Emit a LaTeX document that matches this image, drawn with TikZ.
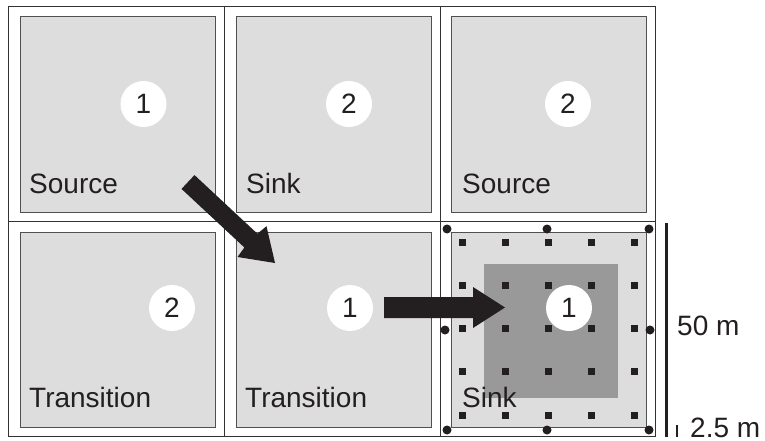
\documentclass[tikz,border=0pt]{standalone}
\usepackage{fontspec}
\setmainfont{Liberation Sans}
\definecolor{ink}{RGB}{35,31,32}
\definecolor{cellfill}{RGB}{221,221,221}
\definecolor{boxc}{RGB}{80,80,80}
\definecolor{gridc}{RGB}{50,50,50}
\definecolor{coref}{RGB}{153,153,153}
\begin{document}
\begin{tikzpicture}[x=1pt,y=-1pt,
  gridline/.style={draw=gridc, line width=1pt},
  cellbox/.style={draw=boxc, fill=cellfill, line width=1pt, minimum width=195pt, minimum height=195pt, inner sep=0pt, outer sep=0pt},
  corebox/.style={fill=coref, minimum width=134pt, minimum height=134pt, inner sep=0pt},
  num/.style={circle, fill=white, minimum size=46pt, inner sep=0pt, font=\fontsize{28}{28}\selectfont, text=ink},
  lbl/.style={anchor=base west, inner sep=0pt, font=\fontsize{28}{30}\selectfont, text=ink},
  bigdot/.style={circle, fill=ink, minimum size=9pt, inner sep=0pt},
  sq/.style={rectangle, fill=ink, minimum size=7pt, inner sep=0pt},
  fat/.style={fill=ink, draw=none}]
\useasboundingbox (0,0) rectangle (765,441);
\fill[white] (0,0) rectangle (765,441);
% grid
\draw[gridline] (8.5,7) rectangle (655.5,436);
\draw[gridline] (224.5,7) -- (224.5,436);
\draw[gridline] (440.5,7) -- (440.5,436);
\draw[gridline] (8.5,221.5) -- (655.5,221.5);
% cells
\node[cellbox] (c11) at (117.5,114.5) {};
\node[cellbox] (c21) at (333.5,114.5) {};
\node[cellbox] (c31) at (548.5,114.5) {};
\node[cellbox] (c12) at (117.5,329.5) {};
\node[cellbox] (c22) at (333.5,329.5) {};
\node[cellbox] (c32) at (548.5,329.5) {};
% core of sampling cell
\node[corebox] (core) at (551,331) {};
% sampling squares
\foreach \i in {0,...,4}{
  \foreach \j in {0,...,4}{
    \node[sq] (q\i\j) at ({462+43*\i},{242+43.3*\j}) {};
  }
}
% corner and edge dots
\foreach \p/\n in {{(447,229)}/d1,{(547,229)}/d2,{(649,229)}/d3,{(445,330)}/d4,{(650,330)}/d5,{(447,430)}/d6,{(547,430)}/d7,{(649,430)}/d8}{
  \node[bigdot] (\n) at \p {};
}
% numbered circles
\node[num] (n11) at (143.5,104) {1};
\node[num] (n21) at (349,104) {2};
\node[num] (n31) at (568,104) {2};
\node[num] (n12) at (172,308) {2};
\node[num] (n22) at (350,308) {1};
\node[num] (n32) at (569,308) {1};
% labels
\node[lbl] (t11) at (29,193) {Source};
\node[lbl] (t21) at (246,193) {Sink};
\node[lbl] (t31) at (462,193) {Source};
\node[lbl] (t12) at (29,407) {Transition};
\node[lbl] (t22) at (245,407) {Transition};
\node[lbl] (t32) at (462,407) {Sink};
% block arrows
\fill[fat] (181.5,188.9) -- (244.4,247.5) -- (237.5,257.0) -- (275,263) -- (266.5,226.2) -- (257.4,233.7) -- (194.5,175.1) -- cycle;
\fill[fat] (384,297) -- (473,297) -- (473,287) -- (505,307.5) -- (473,328) -- (473,318) -- (384,318) -- cycle;
% scale bars
\coordinate (s1) at (666,223);
\coordinate (s2) at (666,437);
\coordinate (s3) at (677,425);
\coordinate (s4) at (677,437);
\draw[ink, line width=3pt] (s1) -- (s2);
\draw[ink, line width=2.5pt] (s3) -- (s4);
\node[lbl] (m50) at (677,335) {50 m};
\node[lbl] (m25) at (690,437) {2.5 m};
\end{tikzpicture}
\end{document}
